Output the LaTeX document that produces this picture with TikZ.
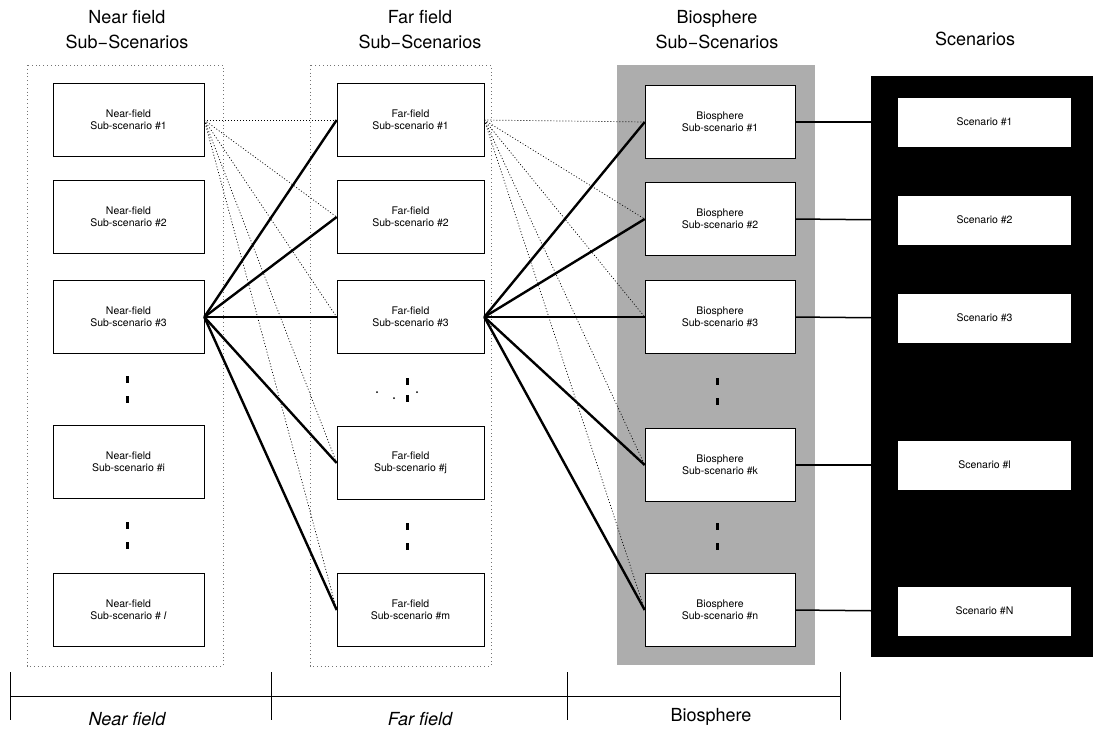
\documentclass[tikz,border=0pt]{standalone}
\usepackage{fontspec}
\setmainfont{TeX Gyre Heros}
\usetikzlibrary{positioning}

\begin{document}
\begin{tikzpicture}[x=1pt,y=-1pt,semithick]
\tikzstyle{panel}=[draw=black!55,line width=0.6pt,dash pattern=on 0.8pt off 3pt]
\tikzstyle{subbox}=[draw=black,fill=white,semithick,minimum width=150pt,minimum height=73pt,inner sep=0pt,align=center,font=\fontsize{10.5}{12}\selectfont]
\tikzstyle{scenbox}=[fill=white,minimum width=173pt,minimum height=49pt,inner sep=0pt,font=\fontsize{10.5}{12}\selectfont]
\tikzstyle{head}=[align=center,font=\fontsize{18}{25}\selectfont]
\tikzstyle{vdot}=[fill=black,minimum width=3pt,minimum height=7pt,inner sep=0pt]
\tikzstyle{speck}=[fill=black,circle,minimum size=2pt,inner sep=0pt]
\tikzstyle{fan}=[line width=0.7pt,dash pattern=on 1pt off 2pt]
\tikzstyle{link}=[line width=2.4pt]
\useasboundingbox (0,0) rectangle (1094,732);

% column headings
\node[head] (hn) at (127,30) {Near field\\Sub−Scenarios};
\node[head] (hf) at (420,30) {Far field\\Sub−Scenarios};
\node[head] (hb) at (717,30) {Biosphere\\Sub−Scenarios};
\node[head] (hs) at (975,39) {Scenarios};

% backgrounds
\draw[panel] (27,65) rectangle (223,666);
\draw[panel] (310,65) rectangle (491,666);
\fill[black!32] (617,65) rectangle (815,665);
\fill[black] (871,76) rectangle (1093,657);

% near field
\node[subbox,minimum width=151pt] (n1) at (128.5,120) {Near-field\\Sub-scenario \#1};
\node[subbox,minimum width=151pt] (n2) at (128.5,217) {Near-field\\Sub-scenario \#2};
\node[subbox,minimum width=151pt] (n3) at (128.5,317) {Near-field\\Sub-scenario \#3};
\node[subbox,minimum width=151pt] (ni) at (128.5,462) {Near-field\\Sub-scenario \#i};
\node[subbox,minimum width=151pt] (nl) at (128.5,610) {Near-field\\Sub-scenario \# \textit{l}};

% far field
\node[subbox,minimum width=147pt] (f1) at (410.5,120) {Far-field\\Sub-scenario \#1};
\node[subbox,minimum width=147pt] (f2) at (410.5,217) {Far-field\\Sub-scenario \#2};
\node[subbox,minimum width=147pt] (f3) at (410.5,317) {Far-field\\Sub-scenario \#3};
\node[subbox,minimum width=147pt] (fj) at (410.5,463) {Far-field\\Sub-scenario \#j};
\node[subbox,minimum width=147pt] (fm) at (410.5,610) {Far-field\\Sub-scenario \#m};

% biosphere
\node[subbox] (b1) at (720,122) {Biosphere\\Sub-scenario \#1};
\node[subbox] (b2) at (720,219) {Biosphere\\Sub-scenario \#2};
\node[subbox] (b3) at (720,317) {Biosphere\\Sub-scenario \#3};
\node[subbox] (bk) at (720,465) {Biosphere\\Sub-scenario \#k};
\node[subbox] (bn) at (720,610) {Biosphere\\Sub-scenario \#n};

% scenarios
\node[scenbox] (s1) at (984.5,122) {Scenario \#1};
\node[scenbox] (s2) at (984.5,220) {Scenario \#2};
\node[scenbox] (s3) at (984.5,318) {Scenario \#3};
\node[scenbox] (sl) at (984.5,465) {Scenario \#l};
\node[scenbox] (sN) at (984.5,611) {Scenario \#N};

% vertical dots
\node[vdot] (nd1) at (127,379) {};
\node[vdot] (nd2) [below=13pt of nd1] {};
\node[vdot] (nd3) at (127,525) {};
\node[vdot] (nd4) [below=13pt of nd3] {};
\node[vdot] (fd1) at (407,381) {};
\node[vdot] (fd2) [below=10pt of fd1] {};
\node[speck] (fs1) at (377,392) {};
\node[speck] (fs2) at (394,398) {};
\node[speck] (fs3) at (417,392) {};
\node[vdot] (fd3) at (407,526) {};
\node[vdot] (fd4) [below=13pt of fd3] {};
\node[vdot] (bd1) at (717,381) {};
\node[vdot] (bd2) [below=13pt of bd1] {};
\node[vdot] (bd3) at (717,526) {};
\node[vdot] (bd4) [below=13pt of bd3] {};

\path
(n1.east) edge[fan] (f1.west)
(n1.east) edge[fan] (f2.west)
(n1.east) edge[fan] (f3.west)
(n1.east) edge[fan] (fj.west)
(n1.east) edge[fan] (fm.west)
(n3.east) edge[link] (f1.west)
(n3.east) edge[link] (f2.west)
(n3.east) edge[link] (f3.west)
(n3.east) edge[link] (fj.west)
(n3.east) edge[link] (fm.west);

\path
(f1.east) edge[fan] (b1.west)
(f1.east) edge[fan] (b2.west)
(f1.east) edge[fan] (b3.west)
(f1.east) edge[fan] (bk.west)
(f1.east) edge[fan] (bn.west)
(f3.east) edge[link] (b1.west)
(f3.east) edge[link] (b2.west)
(f3.east) edge[link] (b3.west)
(f3.east) edge[link] (bk.west)
(f3.east) edge[link] (bn.west);

\path[line width=1.5pt]
(b1.east) edge (s1.west)
(b2.east) edge (s2.west)
(b3.east) edge (s3.west)
(bk.east) edge (sl.west)
(bn.east) edge (sN.west);

% bottom scale
\coordinate (a0) at (10,696);
\coordinate (a1) at (271,696);
\coordinate (a2) at (567,696);
\coordinate (a3) at (840,696);
\draw[thin] (a0) -- (a3);
\draw[thin] ([yshift=24pt]a0) -- ([yshift=-24pt]a0);
\draw[thin] ([yshift=24pt]a1) -- ([yshift=-24pt]a1);
\draw[thin] ([yshift=24pt]a2) -- ([yshift=-24pt]a2);
\draw[thin] ([yshift=24pt]a3) -- ([yshift=-24pt]a3);
\node[head,font=\fontsize{18}{25}\selectfont\itshape] (ln) at (127,719) {Near field};
\node[head,font=\fontsize{18}{25}\selectfont\itshape] (lf) at (420,719) {Far field};
\node[head] (lb) at (711,717) {Biosphere};
\end{tikzpicture}
\end{document}
